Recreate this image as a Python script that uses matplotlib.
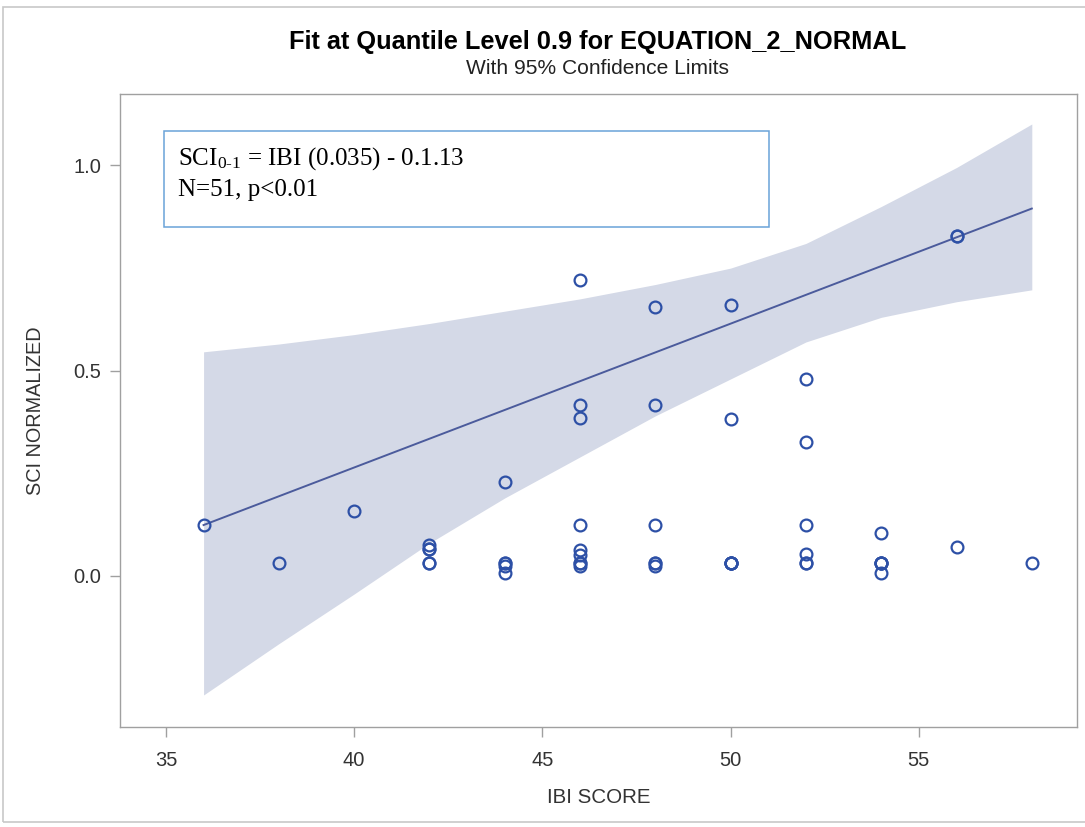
import matplotlib
matplotlib.use('Agg')
import matplotlib.pyplot as plt
from matplotlib.patches import Rectangle

# observed points (IBI score, normalized SCI)
ibi = [36, 38, 40,
       42, 42, 42, 42, 42,
       44, 44, 44, 44, 44,
       46, 46, 46, 46, 46, 46, 46, 46, 46,
       48, 48, 48, 48, 48, 48,
       50, 50, 50, 50, 50, 50, 50,
       52, 52, 52, 52, 52, 52,
       54, 54, 54, 54, 54, 54,
       56, 56, 56,
       58]
sci = [0.124, 0.032, 0.158,
       0.075, 0.066, 0.066, 0.032, 0.032,
       0.229, 0.032, 0.032, 0.024, 0.007,
       0.721, 0.416, 0.385, 0.124, 0.063, 0.051, 0.032, 0.032, 0.024,
       0.655, 0.416, 0.124, 0.032, 0.032, 0.024,
       0.660, 0.382, 0.032, 0.032, 0.032, 0.032, 0.032,
       0.480, 0.326, 0.124, 0.054, 0.032, 0.032,
       0.105, 0.032, 0.032, 0.032, 0.032, 0.007,
       0.829, 0.829, 0.071,
       0.032]

# fitted 0.9 quantile line and 95% limits
fit_x = [36, 58]
fit_y = [0.124, 0.895]
ci_x = [36, 38, 40, 42, 44, 46, 48, 50, 52, 54, 56, 58]
ci_lower = [-0.290, -0.165, -0.044, 0.080, 0.190, 0.290, 0.390, 0.480, 0.570, 0.630, 0.668, 0.697]
ci_upper = [0.546, 0.565, 0.588, 0.615, 0.645, 0.675, 0.710, 0.750, 0.810, 0.900, 0.995, 1.101]

x_ticks = [35, 40, 45, 50, 55]
y_ticks = [0.0, 0.5, 1.0]

plt.rcParams['font.family'] = ['Liberation Sans', 'DejaVu Sans']
plt.rcParams['mathtext.fontset'] = 'custom'
plt.rcParams['mathtext.rm'] = 'Liberation Serif'
plt.rcParams['mathtext.it'] = 'Liberation Serif:italic'

fig = plt.figure(figsize=(10.85, 8.27), dpi=100)
ax = fig.add_axes([0.1106, 0.1209, 0.882, 0.7654])

# light frame around the whole graph
fig.patches.append(Rectangle((0.003, 0.006), 1.2, 0.986, transform=fig.transFigure,
                             fill=False, edgecolor='#c8c8c8', linewidth=1.2))

ax.fill_between(ci_x, ci_lower, ci_upper, color='#d4d9e7', linewidth=0, zorder=1)
ax.plot(fit_x, fit_y, color='#4b5b9c', linewidth=1.4, zorder=2)
ax.plot(ibi, sci, linestyle='none', marker='o', markersize=8.5, markerfacecolor='none',
        markeredgecolor='#2d50a6', markeredgewidth=1.6, zorder=5)

ax.set_xlim(33.78, 59.2)
ax.set_ylim(-0.368, 1.174)
ax.set_xticks(x_ticks)
ax.set_xticklabels([str(v) for v in x_ticks])
ax.set_yticks(y_ticks)
ax.set_yticklabels([f'{v:.1f}' for v in y_ticks])
ax.tick_params(direction='out', length=7.5, width=1, color='#a0a0a0',
               labelsize=14.5, labelcolor='#333333')
ax.tick_params(axis='x', pad=10)
ax.tick_params(axis='y', pad=6)
for sp in ax.spines.values():
    sp.set_color('#a0a0a0')
    sp.set_linewidth(1)

ax.set_xlabel('IBI SCORE', fontsize=14.8, color='#333333')
ax.set_ylabel('SCI NORMALIZED', fontsize=14.3, color='#333333')
ax.xaxis.set_label_coords(0.5, -0.112)
ax.yaxis.set_label_coords(-0.0888, 0.5)
ax.xaxis.label.set_va('center')
ax.yaxis.label.set_va('center')

fig.text(0.551, 0.949, 'Fit at Quantile Level 0.9 for EQUATION_2_NORMAL',
         ha='center', va='center', fontsize=18.3, fontweight='bold', color='black')
fig.text(0.551, 0.9166, 'With 95% Confidence Limits',
         ha='center', va='center', fontsize=15.1, color='#222222')

# equation box
box = Rectangle((0.046, 0.790), 0.632, 0.1516, transform=ax.transAxes,
                fill=True, facecolor='white', edgecolor='#6aa3d8', linewidth=1.1, zorder=3)
ax.add_patch(box)
ax.text(0.0606, 0.888, r'SCI$_{0\text{-}1}$ = IBI (0.035) - 0.1.13', transform=ax.transAxes,
        fontsize=18, family='Liberation Serif', color='black', va='baseline', zorder=4)
ax.text(0.0606, 0.839, 'N=51, p<0.01', transform=ax.transAxes,
        fontsize=18, family='Liberation Serif', color='black', va='baseline', zorder=4)

fig.savefig('out.png', dpi=100)
